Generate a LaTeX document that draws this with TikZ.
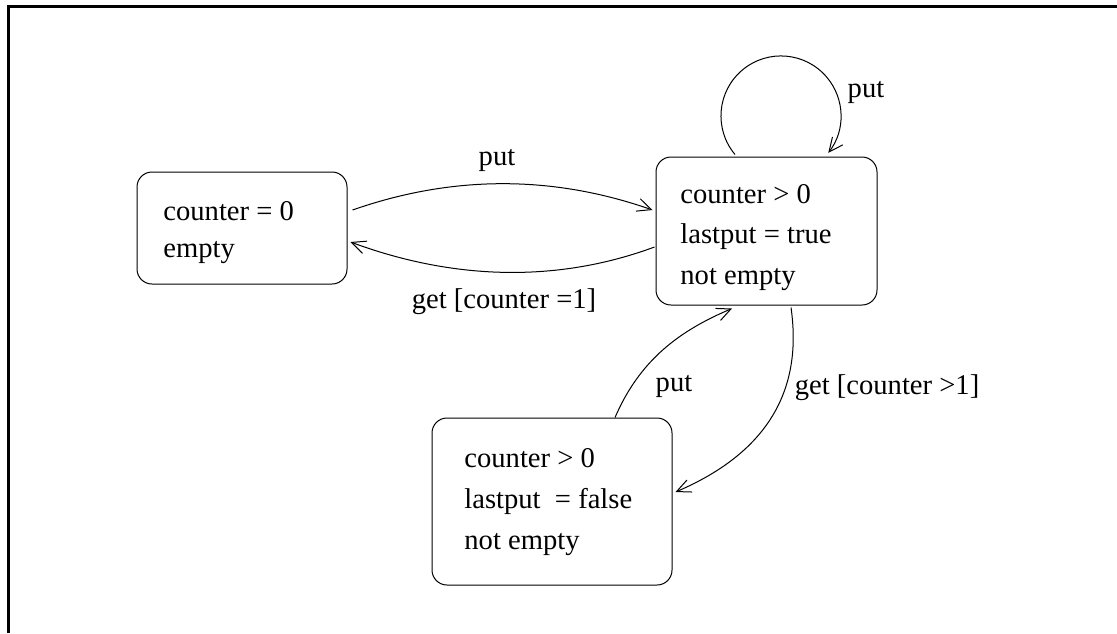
\documentclass[tikz,border=0pt]{standalone}
\usepackage{fontspec}
\setmainfont{Liberation Serif}
\usetikzlibrary{arrows.meta}
\begin{document}
\begin{tikzpicture}[x=0.5pt,y=-0.5pt,
  statebox/.style={draw,line width=0.5pt,rounded corners=7.5pt,inner sep=0pt},
  txt/.style={font=\fontsize{14.3}{17}\selectfont,inner sep=0pt,anchor=base west},
  lbl/.style={font=\fontsize{14.3}{17}\selectfont,inner sep=0pt},
  arr/.style={line width=0.5pt,-{Straight Barb[length=7pt,width=6.5pt,line width=0.5pt]}}]
\useasboundingbox (0,0) rectangle (1117,633);
\draw[line width=1.5pt] (8,633) -- (8,6.5) -- (1117,6.5);
% states
\node[statebox,minimum width=105pt,minimum height=56pt] (A) at (242,228) {};
\node[statebox,minimum width=110.5pt,minimum height=74pt] (B) at (766.5,231) {};
\node[statebox,minimum width=120pt,minimum height=83.5pt] (C) at (552,501.5) {};
% texts
\node[txt] (a1) at (163,220) {counter = 0};
\node[txt] (a2) at (163,257) {empty};
\node[txt] (b1) at (680,203) {counter > 0};
\node[txt] (b2) at (680,243) {lastput = true};
\node[txt] (b3) at (680,284) {not empty};
\node[txt] (c1) at (464,467) {counter > 0};
\node[txt] (c2) at (464,508) {lastput\ \ = false};
\node[txt] (c3) at (464,549) {not empty};
% transitions
\draw[arr] ([xshift=2.5pt,yshift=9pt]A.east) .. controls +(100,-35) and +(-100,-35) .. ([xshift=-1.5pt,yshift=10.5pt]B.west);
\draw[arr] ([xshift=-0.5pt,yshift=-8pt]B.west) .. controls +(-100,37) and +(100,37) .. ([xshift=1.5pt,yshift=-7pt]A.east);
\draw[arr] ([xshift=-15.75pt,yshift=1pt]B.north) arc[start angle=140,end angle=398,radius=60];
\draw[arr] ([xshift=31.5pt]C.north) .. controls +(25,-58) and +(-52,22) .. ([xshift=-17.25pt,yshift=-1.5pt]B.south);
\draw[arr] ([xshift=12.25pt,yshift=-1pt]B.south) .. controls +(9,63) and +(110,-47) .. ([xshift=1.5pt,yshift=4.75pt]C.east);
% labels
\node[lbl] (l1) at (497,160) {put};
\node[lbl] (l2) at (504,302) {get [counter =1]};
\node[lbl] (l3) at (866,92) {put};
\node[lbl] (l4) at (674,386) {put};
\node[lbl] (l5) at (887,388) {get [counter >1]};
\end{tikzpicture}
\end{document}
